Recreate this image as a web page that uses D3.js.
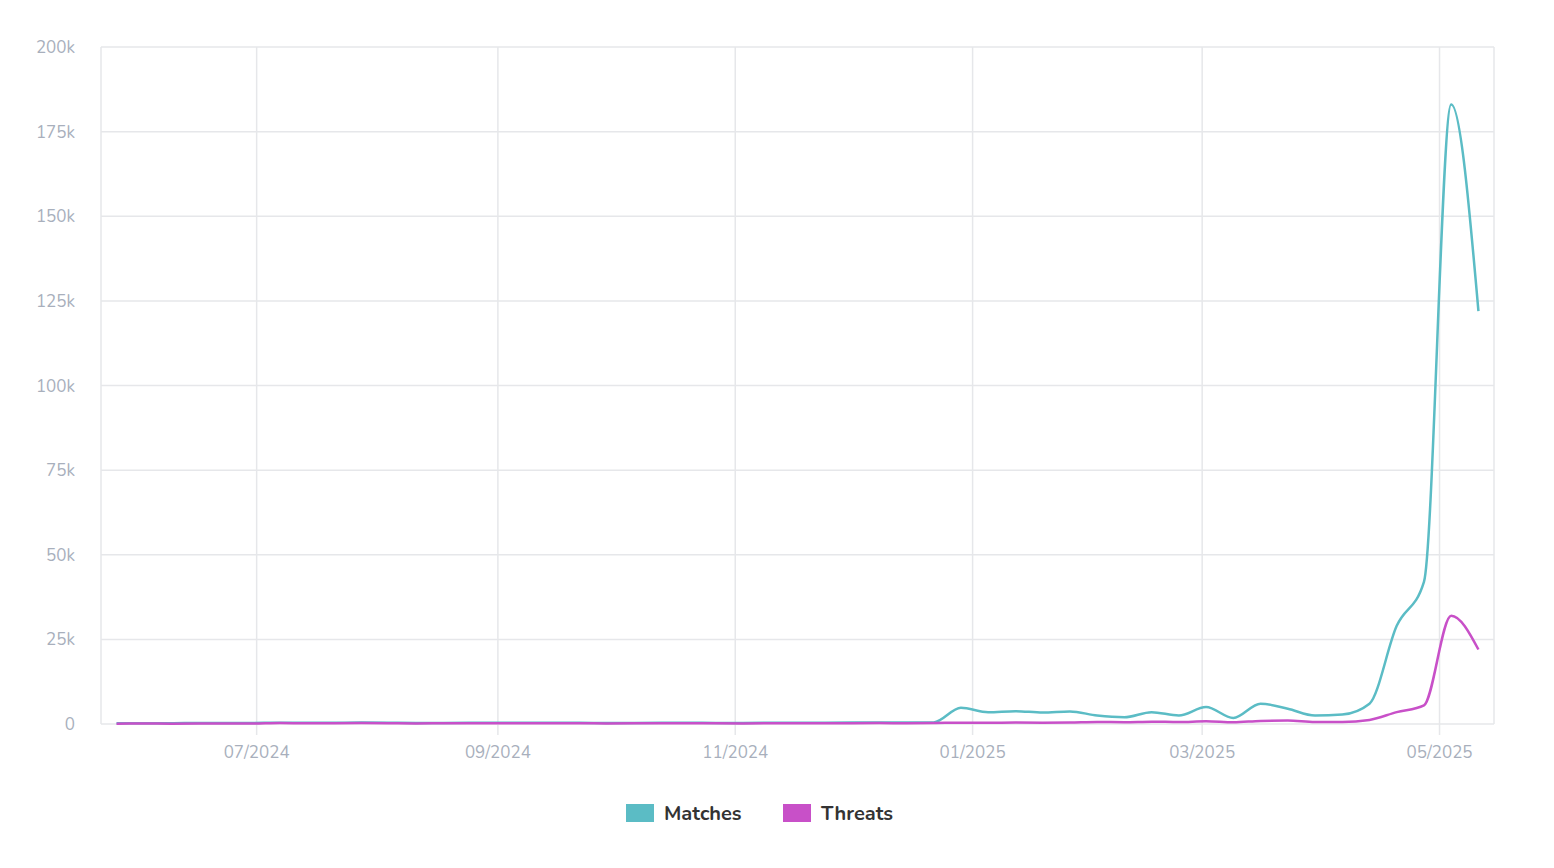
<!DOCTYPE html>
<html><head><meta charset="utf-8">
<script src="https://cdn.jsdelivr.net/npm/d3@7"></script>
<style>body{margin:0;background:#fff;font-family:Nunito,"Open Sans",Lato,sans-serif}</style>
</head><body><svg id="c" width="1554" height="868"></svg>
<script>
const startDate = "2024-05-26";
const matches = [200,250,220,300,280,320,400,350,380,420,360,300,330,360,400,380,340,360,300,320,380,350,330,300,360,400,380,420,450,420,480,
  4800,3500,3800,3400,3700,2500,2000,3500,2500,5000,1800,6000,4500,2500,2800,6000,29000,42000,183000,122000];
const threats = [100,120,110,150,140,160,300,200,250,260,220,180,200,220,240,230,200,210,180,200,220,200,190,180,210,230,220,240,260,240,280,
  400,380,420,400,450,600,550,700,600,800,500,900,1000,600,600,1200,3500,5500,32000,22000];
const yTicks = [0,25000,50000,75000,100000,125000,150000,175000,200000];
const xTickDates = ["2024-07-01","2024-09-01","2024-11-01","2025-01-01","2025-03-01","2025-05-01"];
const seriesNames = ["Matches","Threats"];
const colors = ["#5bbcc5","#c850c8"];

const svg = d3.select("#c");
const p = d3.timeParse("%Y-%m-%d");
const dates = matches.map((_,i)=>d3.timeDay.offset(p(startDate), i*7));
const x = d3.scaleTime().domain([p("2024-05-22"), p("2025-05-15")]).range([101,1494]);
const y = d3.scaleLinear().domain([0,200000]).range([724,47]);
const grid = "#e6e7ea", tc = "#a8afbc";

svg.append("g").selectAll("line").data(yTicks).join("line")
  .attr("x1",101).attr("x2",1494).attr("y1",d=>y(d)).attr("y2",d=>y(d)).attr("stroke",grid).attr("stroke-width",1.5);
svg.append("g").selectAll("line").data(xTickDates).join("line")
  .attr("x1",d=>x(p(d))).attr("x2",d=>x(p(d))).attr("y1",47).attr("y2",735).attr("stroke",grid).attr("stroke-width",1.5);
svg.append("line").attr("x1",101).attr("x2",101).attr("y1",47).attr("y2",724).attr("stroke",grid).attr("stroke-width",1.5);
svg.append("line").attr("x1",1494).attr("x2",1494).attr("y1",47).attr("y2",724).attr("stroke",grid).attr("stroke-width",1.5);
svg.append("g").selectAll("text").data(yTicks).join("text")
  .attr("x",75).attr("y",d=>y(d)+6).attr("text-anchor","end").attr("fill",tc).attr("font-size",17)
  .text(d=>d===0?"0":(d/1000)+"k");
svg.append("g").selectAll("text").data(xTickDates).join("text")
  .attr("x",d=>x(p(d))).attr("y",758).attr("text-anchor","middle").attr("fill",tc).attr("font-size",17)
  .text(d=>d3.timeFormat("%m/%Y")(p(d)));

const line = d3.line().x((d,i)=>x(dates[i])).y(d=>y(d)).curve(d3.curveMonotoneX);
[matches,threats].forEach((s,k)=>{
  svg.append("path").attr("d",line(s)).attr("fill","none").attr("stroke",colors[k]).attr("stroke-width",2.5);
});

const lx=[626,783];
seriesNames.forEach((n,k)=>{
  svg.append("rect").attr("x",lx[k]).attr("y",804).attr("width",28).attr("height",18).attr("fill",colors[k]);
  svg.append("text").attr("x",lx[k]+38).attr("y",820).attr("font-size",20).attr("font-weight",700).attr("fill","#333").text(n);
});
</script></body></html>
